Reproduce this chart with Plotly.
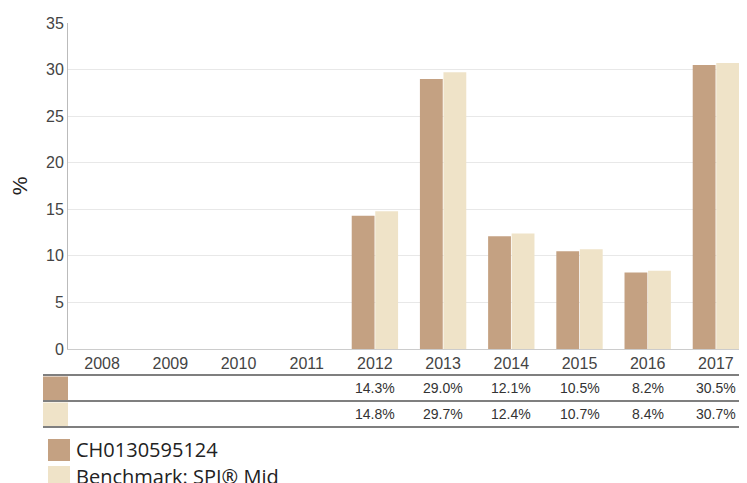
import plotly.graph_objects as go

years = ["2008", "2009", "2010", "2011", "2012", "2013", "2014", "2015", "2016", "2017"]
fund = [None, None, None, None, 14.3, 29.0, 12.1, 10.5, 8.2, 30.5]
bench = [None, None, None, None, 14.8, 29.7, 12.4, 10.7, 8.4, 30.7]
series_names = ["CH0130595124", "Benchmark: SPI® Mid"]
colors = ["#C4A182", "#EFE3C8"]
y_ticks = [0, 5, 10, 15, 20, 25, 30, 35]

W, H = 747, 483
OFF = 8  # page body margin: screen pixel = figure pixel + OFF
# plot area in screen pixels
SX0, SX1, SY0, SY1 = 68, 750, 23, 349
L = SX0 - OFF
R = W - (SX1 - OFF)
T = SY0 - OFF
B = H - (SY1 - OFF)
ph = H - T - B
pw = W - L - R


def py(p):
    return (SY1 - p) / ph


def px(p):
    return (p - SX0) / pw


fig = go.Figure()
for name, vals, c in zip(series_names, [fund, bench], colors):
    fig.add_trace(go.Bar(x=years, y=vals, name=name, marker_color=c,
                         marker_line_width=0, showlegend=False))

shapes = []
annotations = []
# table lines
for yy in [375, 401, 427]:
    shapes.append(dict(type="line", xref="paper", yref="paper",
                       x0=px(43), x1=px(760), y0=py(yy), y1=py(yy),
                       line=dict(color="#555555", width=1.5)))
# colored row swatches
rows = [(376.5, 400), (402.5, 426)]
for (y0, y1), c in zip(rows, colors):
    shapes.append(dict(type="rect", xref="paper", yref="paper",
                       x0=px(43), x1=px(68), y0=py(y1), y1=py(y0),
                       fillcolor=c, line=dict(width=0)))
# table values (x as category index)
for vals, (y0, y1) in zip([fund, bench], rows):
    for i, v in enumerate(vals):
        if v is None:
            continue
        annotations.append(dict(x=i, xref="x", y=py((y0 + y1) / 2), yref="paper",
                                text=f"{v:.1f}%", showarrow=False,
                                xanchor="center", yanchor="middle",
                                font=dict(family="Liberation Sans, Arial", size=14, color="#333333")))
# legend
leg = [(439, 461), (466, 488)]
for (y0, y1), c, name in zip(leg, colors, series_names):
    shapes.append(dict(type="rect", xref="paper", yref="paper",
                       x0=px(48), x1=px(70), y0=py(y1), y1=py(y0),
                       fillcolor=c, line=dict(width=0)))
    annotations.append(dict(x=px(74), xref="paper", y=py((y0 + y1) / 2 - 1), yref="paper",
                            text=name, showarrow=False, xanchor="left", yanchor="middle",
                            font=dict(family="Open Sans", size=20, color="#222222")))

fig.update_layout(
    width=W, height=H,
    margin=dict(l=L, r=R, t=T, b=B, autoexpand=False),
    plot_bgcolor="white", paper_bgcolor="white",
    barmode="group", bargap=0.31, bargroupgap=0.03,
    shapes=shapes, annotations=annotations,
    font=dict(family="Liberation Sans, Arial", size=16, color="#444444"),
    xaxis=dict(type="category", range=[-0.5, len(years) - 0.5], showgrid=False,
               showline=True, linecolor="#cccccc", linewidth=1,
               ticks="", automargin=False, tickfont=dict(size=16, color="#444444")),
    yaxis=dict(range=[0, 35], tickvals=y_ticks, showgrid=True, gridcolor="#e8e8e8",
               showline=True, linecolor="#bbbbbb", linewidth=1, zeroline=False,
               ticks="", automargin=False, tickfont=dict(size=16, color="#444444"),
               title=dict(text="%", font=dict(size=21, color="#222222"), standoff=24)),
)

fig.write_html("out.html")
